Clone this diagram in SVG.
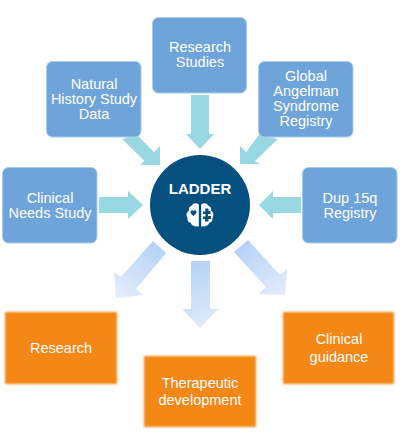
<svg xmlns="http://www.w3.org/2000/svg" width="400" height="432" viewBox="0 0 400 432">
<defs>
<linearGradient id="gl" gradientUnits="userSpaceOnUse" x1="160" y1="245" x2="125" y2="295"><stop offset="0" stop-color="#B3D2F6"/><stop offset="1" stop-color="#E0EBFB"/></linearGradient>
<linearGradient id="gb" gradientUnits="userSpaceOnUse" x1="190" y1="262" x2="212" y2="325"><stop offset="0" stop-color="#B3D2F6"/><stop offset="1" stop-color="#E0EBFB"/></linearGradient>
<linearGradient id="gr" gradientUnits="userSpaceOnUse" x1="238" y1="245" x2="285" y2="290"><stop offset="0" stop-color="#B3D2F6"/><stop offset="1" stop-color="#E0EBFB"/></linearGradient>
<filter id="soft" x="-5%" y="-5%" width="110%" height="110%"><feGaussianBlur stdDeviation="0.8"/></filter>
</defs>
<style>
.src{fill:#6FA4DA;stroke:#A9CBEC;stroke-width:1}
.out{fill:#F58713;filter:url(#soft)}
.in{fill:#97D8E3}
text{font-family:"Liberation Sans",Arial,sans-serif;font-size:14.5px;fill:#fff;text-anchor:middle}
</style>
<rect width="400" height="432" fill="#fff"/>
<g id="connectors">
<polygon class="in" points="191,95 209,95 209,134 214,134 200,149 186,134 191,134"/>
<polygon class="in" points="122,139 137,135 154,152 160,146 160,165 140,165 144.5,161"/>
<polygon class="in" points="278,139 259,135 246,152 240,146 240,164 260,164 255,161"/>
<polygon class="in" points="99,197 128,197 128,191 143,205 128,219 128,213 99,213"/>
<polygon class="in" points="301,197 273,197 273,191 259,205 273,219 273,213 301,213"/>
<polygon fill="url(#gl)" points="153,241 166,253 136,289 143,295 116,298 114,272 121,277"/>
<polygon fill="url(#gb)" points="191,261 210,261 210,309 218,309 200,328 182,309 191,309"/>
<polygon fill="url(#gr)" points="248,240 234,252 266,287 259,294 285,295 287,269 280,275"/>
</g>
<g id="node-research-studies"><rect class="src" x="152.500" y="17.500" width="94" height="75.500" rx="6"/><text x="200" y="52">Research</text><text x="200" y="67">Studies</text></g>
<g id="node-natural-history"><rect class="src" x="46.500" y="61.500" width="94.500" height="75.500" rx="6"/><text x="94" y="89">Natural</text><text x="94" y="104">History Study</text><text x="94" y="119">Data</text></g>
<g id="node-global-registry"><rect class="src" x="258.500" y="61.500" width="94.500" height="75.500" rx="6"/><text x="306" y="81">Global</text><text x="306" y="96">Angelman</text><text x="306" y="111">Syndrome</text><text x="306" y="126">Registry</text></g>
<g id="node-clinical-needs"><rect class="src" x="2.500" y="167.500" width="94.500" height="75.500" rx="6"/><text x="50" y="203">Clinical</text><text x="50" y="218">Needs Study</text></g>
<g id="node-dup15q"><rect class="src" x="302.500" y="167.500" width="94.500" height="75.500" rx="6"/><text x="350" y="203">Dup 15q</text><text x="350" y="218">Registry</text></g>
<g id="node-ladder">
<circle cx="200" cy="205" r="50" fill="#05507F"/>
<text x="200" y="194" style="font-size:15px;font-weight:700">LADDER</text>
<path fill="#fff" d="M198.800 204.500C196 202.500 193 203 192 205.500C189.500 206 188.500 208.500 189 210.500C186.500 212 185.800 215.500 187.500 218C187 220.500 188.500 222.500 190.500 222.500C191.500 225.500 194.500 227 198.800 226.500Z"/>
<path fill="#fff" d="M201.200 204.500C204 202.500 207 203 208 205.500C210.500 206 211.500 208.500 211 210.500C213.500 212 214.200 215.500 212.500 218C213 220.500 211.500 222.500 209.500 222.500C208.500 225.500 205.500 227 201.200 226.500Z"/>
<path fill="#05507F" d="M193.500 216C191.800 214.600 190.500 213.500 190.500 212C190.500 210 193 209.500 193.500 211.200C194 209.500 196.500 210 196.500 212C196.500 213.500 195.200 214.600 193.500 216Z"/>
<path fill="#05507F" d="M205 208.500h3.500v2.500h2v3h-2.500v2h3v3h-2.500v2.500h-3.500v-2.500h-2v-2.500h2.500v-2.500h-2.500v-2.500h2.500z"/>
</g>
<g id="node-research"><rect class="out" x="5" y="312" width="112" height="72"/><text x="61" y="353">Research</text></g>
<g id="node-therapeutic"><rect class="out" x="144" y="356" width="112" height="71"/><text x="200" y="388">Therapeutic</text><text x="200" y="405">development</text></g>
<g id="node-clinical-guidance"><rect class="out" x="283" y="312" width="111" height="72"/><text x="339" y="344">Clinical</text><text x="339" y="362">guidance</text></g>
</svg>
